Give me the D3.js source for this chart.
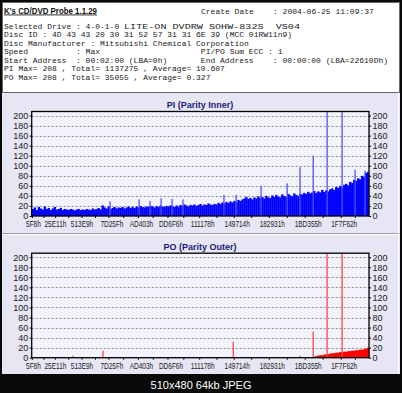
<!DOCTYPE html>
<html>
<head>
<meta charset="utf-8">
<script src="https://cdnjs.cloudflare.com/ajax/libs/d3/7.8.5/d3.min.js"></script>
<style>
  html, body { margin: 0; padding: 0; background: #000; }
  svg { display: block; }
</style>
</head>
<body>
<script>
// ---- data ----
var endLBA = 0x22610D;

var xTickLabels = ["5F8h", "25E11h", "513E9h", "7D25Fh", "AD403h", "DD6F6h",
                   "111178h", "149714h", "182931h", "1BD355h", "1F7F62h"];
var yTicks = [0, 20, 40, 60, 80, 100, 120, 140, 160, 180, 200];

var driveName = "LITE-ON DVDRW SOHW-832S  VS04";
var infoLines = [
    "Selected Drive : 4-0-1-0",
    "Disc ID : 4D 43 43 20 30 31 52 57 31 31 6E 39 (MCC 01RW11n9)",
    "Disc Manufacturer : Mitsubishi Chemical Corporation",
    "Speed          : Max                     PI/PO Sum ECC : 1",
    "Start Address  : 00:02:00 (LBA=0h)       End Address    : 00:00:00 (LBA=22610Dh)",
    "PI Max= 208 , Total= 1137275 , Average= 10.607",
    "PO Max= 208 , Total= 35055 , Average= 0.327"
];

// PI level per bin (equal LBA bins across the disc)
var piBase = [
    14, 17, 12, 18, 15, 13, 19, 14, 16, 12, 15, 18, 13, 14, 16, 12, 14,
    13, 12, 14, 13, 11, 13, 14, 12, 13, 12, 14, 13, 12, 15, 13,
    14, 16, 13, 21, 17, 15, 19, 14, 16, 18, 15, 17, 16, 18, 15, 17, 19, 16,
    18, 16, 19, 17, 20, 18, 17, 19, 18, 20,
    19, 17, 20, 18, 21, 19, 18, 20, 19, 21,
    20, 18, 21, 19, 22, 20, 23, 21, 19, 22,
    21, 23, 20, 22, 24, 21, 23, 22, 25, 23,
    22, 24, 23, 26, 24, 27, 25, 28, 26, 29,
    27, 30, 28, 32, 30, 33, 35, 38, 34, 36, 33, 37, 35, 39, 36,
    38, 35, 40, 37, 36, 41, 38, 42, 39, 37, 43, 40, 38, 44, 41, 39, 45, 42, 40, 44,
    43, 46, 44, 48, 45, 47, 50, 46, 49, 47, 52, 48, 51, 49, 53,
    55, 52, 58, 56, 60, 57, 62, 64, 61, 68, 66, 72, 70, 75, 73, 80, 78, 86, 88
];
// isolated PI peaks: [LBA, value]
var piSpikes = [
    [523000, 29], [717000, 33], [790000, 30], [864000, 35], [937000, 34],
    [1010000, 33], [1284000, 42], [1365000, 42], [1532000, 60], [1706000, 65],
    [1792000, 97], [1880000, 120], [1973000, 208], [2073000, 208],
    [2160000, 92], [2226000, 90]
];

// PO level per bin
var poBase = [
    0, 1, 0, 0, 1, 0, 0, 0, 1, 0, 0, 0, 0, 1, 0, 0, 0,
    0, 1, 0, 0, 0, 1, 0, 0, 0, 0, 1, 0, 0, 0, 1,
    0, 0, 1, 0, 0, 0, 1, 0, 0, 1, 0, 0, 0, 1, 0, 0, 0, 1,
    0, 0, 1, 0, 0, 0, 1, 0, 0, 0,
    1, 0, 0, 0, 1, 0, 0, 0, 1, 0,
    0, 0, 1, 0, 0, 0, 0, 1, 0, 0,
    1, 0, 0, 0, 1, 0, 0, 0, 1, 0,
    0, 1, 0, 0, 0, 1, 0, 0, 0, 1,
    0, 0, 1, 0, 0, 0, 1, 0, 0, 1, 0, 0, 0, 1, 0,
    0, 1, 0, 0, 0, 1, 0, 0, 1, 0, 0, 0, 1, 0, 0, 1, 0, 0, 1, 0,
    1, 0, 1, 1, 0, 1, 2, 3, 4, 5, 5, 6, 7, 7, 8,
    9, 9, 10, 10, 11, 11, 12, 12, 13, 13, 14, 14, 15, 15, 16, 16, 17, 18, 20
];
var poSpikes = [
    [276000, 4], [476000, 14], [1346000, 32], [1792000, 4],
    [1880000, 52], [1973000, 208], [2073000, 208]
];

// ---- drawing ----
var width = 402,
    height = 393,
    plotLeft = 31.7,
    plotRight = 369,
    yMax = 208,
    sans = "Liberation Sans, Arial, sans-serif",
    mono = "Liberation Mono, Courier New, monospace";

var svg = d3.select("body").append("svg")
            .attr("width", width)
            .attr("height", height);

svg.append("rect")
   .attr("width", width).attr("height", height)
   .style("fill", "#0a0a0a");

// info box
svg.append("rect")
   .attr("x", 2.5).attr("y", 2.5).attr("width", 397).attr("height", 90)
   .style("fill", "#ffffff").style("stroke", "#666").style("stroke-width", 1);

svg.append("text")
   .attr("x", 4).attr("y", 13.5)
   .attr("textLength", 93).attr("lengthAdjust", "spacingAndGlyphs")
   .style("font-family", sans)
   .style("font-size", "8.5px").style("font-weight", "bold")
   .style("text-decoration", "underline")
   .style("fill", "#111")
   .text("K's CD/DVD Probe 1.1.29");

svg.append("text")
   .attr("x", 201).attr("y", 13.5)
   .attr("xml:space", "preserve")
   .style("font-family", mono).style("font-size", "8px").style("fill", "#222")
   .text("Create Date    : 2004-06-25 11:09:37");

svg.selectAll(".infoLine")
   .data(infoLines)
   .enter().append("text")
   .attr("class", "infoLine")
   .attr("x", 4)
   .attr("y", function(d, i) { return 28.5 + i * 8.57; })
   .attr("xml:space", "preserve")
   .style("font-family", mono).style("font-size", "8px").style("fill", "#222")
   .style("white-space", "pre")
   .text(function(d) { return d; });

// drive name runs a bit wider than the rest of the block
svg.append("text")
   .attr("x", 124).attr("y", 28.5)
   .attr("xml:space", "preserve")
   .attr("textLength", 176).attr("lengthAdjust", "spacingAndGlyphs")
   .style("font-family", mono).style("font-size", "8px").style("fill", "#222")
   .style("white-space", "pre")
   .text(driveName);

// chart panel
svg.append("rect")
   .attr("x", 2).attr("y", 93).attr("width", 398).attr("height", 281)
   .style("fill", "#e6e6f4");
svg.append("line")
   .attr("x1", 2).attr("x2", 400).attr("y1", 233.5).attr("y2", 233.5)
   .style("stroke", "#9a9aa8");
svg.append("line")
   .attr("x1", 2).attr("x2", 400).attr("y1", 234.5).attr("y2", 234.5)
   .style("stroke", "#ffffff");
svg.append("line")
   .attr("x1", 398.5).attr("x2", 398.5).attr("y1", 93).attr("y2", 374)
   .style("stroke", "#ffffff");

var x = d3.scaleLinear().domain([0, endLBA]).range([plotLeft, plotRight]);

function drawChart(cfg) {
    var y = d3.scaleLinear().domain([0, yMax]).range([cfg.zeroY, cfg.zeroY - 104.5]);
    var g = svg.append("g");

    g.append("text")
     .attr("x", 200).attr("y", cfg.zeroY - 108)
     .attr("text-anchor", "middle")
     .style("font-family", sans)
     .style("font-size", "9px").style("font-weight", "bold")
     .style("fill", "#1c1c78")
     .text(cfg.title);

    g.append("rect")
     .attr("x", plotLeft).attr("y", y(yMax))
     .attr("width", plotRight - plotLeft).attr("height", y(0) - y(yMax))
     .style("fill", "#f3f3fb");

    // dashed grid
    g.selectAll(".grid")
     .data(yTicks.slice(1))
     .enter().append("line")
     .attr("x1", plotLeft).attr("x2", plotRight)
     .attr("y1", function(d) { return Math.round(y(d)) + 0.5; })
     .attr("y2", function(d) { return Math.round(y(d)) + 0.5; })
     .style("stroke", "#8a8a96").style("stroke-dasharray", "2,2");

    // base columns
    var n = cfg.base.length,
        binW = endLBA / n;
    g.selectAll(".bin")
     .data(cfg.base)
     .enter().append("rect")
     .attr("x", function(d, i) { return x(i * binW); })
     .attr("width", function(d, i) { return x((i + 1) * binW) - x(i * binW) + 0.3; })
     .attr("y", function(d) { return y(d); })
     .attr("height", function(d) { return y(0) - y(d); })
     .style("fill", cfg.color);

    // peaks
    g.selectAll(".spike")
     .data(cfg.spikes)
     .enter().append("rect")
     .attr("x", function(d) { return x(d[0]) - 0.6; })
     .attr("width", 1.3)
     .attr("y", function(d) { return y(d[1]); })
     .attr("height", function(d) { return y(0) - y(d[1]); })
     .style("fill", cfg.spikeColor);

    // frame
    g.append("rect")
     .attr("x", plotLeft).attr("y", y(yMax))
     .attr("width", plotRight - plotLeft).attr("height", y(0) - y(yMax))
     .style("fill", "none").style("stroke", "#000").style("stroke-width", 1.3);

    // y axes
    var left = g.append("g").attr("transform", "translate(" + plotLeft + ",0)")
                .call(d3.axisLeft(y).tickValues(yTicks).tickSize(2).tickPadding(1.5));
    var right = g.append("g").attr("transform", "translate(" + plotRight + ",0)")
                 .call(d3.axisRight(y).tickValues(yTicks).tickSize(2).tickPadding(1.5));
    [left, right].forEach(function(a) {
        a.select(".domain").remove();
        a.selectAll("text")
         .style("font-family", sans)
         .style("font-size", "9px").style("fill", "#222");
        a.selectAll("line").style("stroke", "#000");
    });

    // x axis
    var tickLBA = xTickLabels.map(function(s) { return parseInt(s, 16); });
    var minor = [];
    tickLBA.forEach(function(v, i) {
        minor.push(v);
        var next = i + 1 < tickLBA.length ? tickLBA[i + 1] : endLBA;
        minor.push((v + next) / 2);
    });
    var bottom = g.append("g").attr("transform", "translate(0," + y(0) + ")")
                  .call(d3.axisBottom(x).tickValues(minor).tickSize(2)
                          .tickFormat(function(d) {
                              var idx = tickLBA.indexOf(d);
                              return idx >= 0 ? xTickLabels[idx] : "";
                          }));
    bottom.select(".domain").remove();
    bottom.selectAll("line").style("stroke", "#000");
    bottom.selectAll("text")
          .attr("dy", "0.71em").attr("y", 5)
          .attr("dx", function(d) { return tickLBA.indexOf(d) > 2 ? 3 : (tickLBA.indexOf(d) === 0 ? 1 : 0); })
          .style("font-family", sans)
          .style("font-size", "9px").style("fill", "#222")
          .each(function() {
              var t = d3.select(this);
              if (t.text()) {
                  t.attr("textLength", this.getComputedTextLength() * 0.72)
                   .attr("lengthAdjust", "spacingAndGlyphs");
              }
          });
}

drawChart({ title: "PI (Parity Inner)", zeroY: 216, base: piBase, spikes: piSpikes,
            color: "#0000ff", spikeColor: "#5050ff" });
drawChart({ title: "PO (Parity Outer)", zeroY: 357.7, base: poBase, spikes: poSpikes,
            color: "#ff0000", spikeColor: "#ff4848" });

svg.append("text")
   .attr("x", 201).attr("y", 389)
   .attr("text-anchor", "middle")
   .style("font-family", sans)
   .style("font-size", "11px").style("fill", "#ffffff")
   .text("510x480 64kb JPEG");
</script>
</body>
</html>
